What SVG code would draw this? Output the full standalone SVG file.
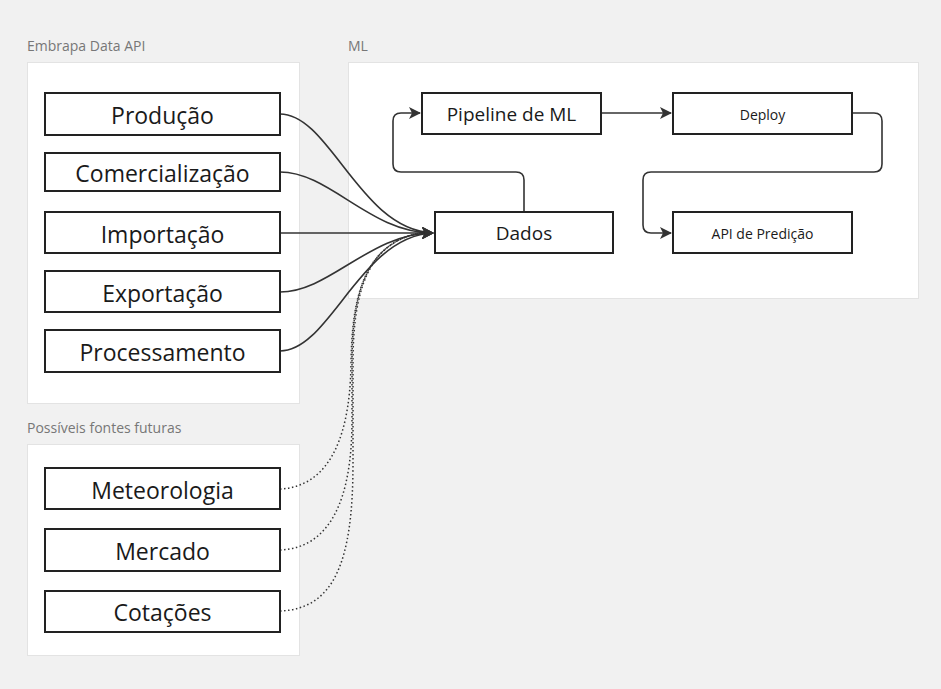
<svg xmlns="http://www.w3.org/2000/svg" width="941" height="689" viewBox="0 0 941 689">
<style>
.bg{fill:#f1f1f1}
.cont{fill:#ffffff;stroke:#e3e3e3;stroke-width:1}
.lbl{font-family:"Open Sans","Noto Sans",sans-serif;font-size:14px;fill:#777}
.box{fill:#ffffff;stroke:#222;stroke-width:2}
.t{font-family:"Open Sans","Noto Sans",sans-serif;fill:#1a1a1a;text-anchor:middle;dominant-baseline:central}
.big{font-size:23px}
.med{font-size:19px}
.sm{font-size:14px}
.edge{fill:none;stroke:#333;stroke-width:1.6}
.dot{fill:none;stroke:#333;stroke-width:1.5;stroke-dasharray:1.5 2.5}
</style>
<defs>
<marker id="arr" viewBox="0 0 12 12" refX="11" refY="6" markerWidth="12" markerHeight="12" markerUnits="userSpaceOnUse" orient="auto">
<path d="M0,0 L12,6 L0,12 L3,6 Z" fill="#333"/>
</marker>
</defs>
<rect class="bg" x="0" y="0" width="941" height="689"/>
<g id="cluster-embrapa">
<rect class="cont" x="27.5" y="62.5" width="272" height="341"/>
<text class="lbl" x="27" y="51">Embrapa Data API</text>
</g>
<g id="cluster-futuras">
<rect class="cont" x="27.5" y="444.5" width="272" height="211"/>
<text class="lbl" x="27" y="433">Possíveis fontes futuras</text>
</g>
<g id="cluster-ml">
<rect class="cont" x="348.5" y="62.5" width="570" height="236"/>
<text class="lbl" x="348" y="51">ML</text>
</g>
<g id="edges">
<path class="edge" d="M280,114 C330,114 360,230 433,233" marker-end="url(#arr)"/>
<path class="edge" d="M280,172 C330,172 370,233 433,233" marker-end="url(#arr)"/>
<path class="edge" d="M280,233 L433,233" marker-end="url(#arr)"/>
<path class="edge" d="M280,292 C330,292 370,233 433,233" marker-end="url(#arr)"/>
<path class="edge" d="M280,351 C330,351 360,236 433,233" marker-end="url(#arr)"/>
<path class="dot" d="M280,489 C322,487 350,450 351,363 C352,300 362,245 420,233"/>
<path class="dot" d="M280,550 C330,548 352,500 352,420 L352,363 C352,300 363,244 420,233"/>
<path class="dot" d="M280,611 C335,609 353,560 353,463 L353,363 C353,300 364,243 420,233"/>
<path class="edge" d="M524,212 L524,180 Q524,172 516,172 L401,172 Q393,172 393,164 L393,121 Q393,113 401,113 L420,113" marker-end="url(#arr)"/>
<path class="edge" d="M601,113 L671,113" marker-end="url(#arr)"/>
<path class="edge" d="M852,113 L874,113 Q882,113 882,121 L882,164 Q882,172 874,172 L651,172 Q643,172 643,180 L643,225 Q643,233 651,233 L671,233" marker-end="url(#arr)"/>
</g>
<g id="n-producao"><rect class="box" x="45" y="93" width="235" height="42"/><text class="t big" x="162.5" y="115">Produção</text></g>
<g id="n-comercializacao"><rect class="box" x="45" y="153" width="235" height="38"/><text class="t big" x="162.5" y="173">Comercialização</text></g>
<g id="n-importacao"><rect class="box" x="45" y="212" width="235" height="41"/><text class="t big" x="162.5" y="234">Importação</text></g>
<g id="n-exportacao"><rect class="box" x="45" y="271" width="235" height="41"/><text class="t big" x="162.5" y="293">Exportação</text></g>
<g id="n-processamento"><rect class="box" x="45" y="330" width="235" height="42"/><text class="t big" x="162.5" y="352">Processamento</text></g>
<g id="n-meteorologia"><rect class="box" x="45" y="468" width="235" height="41"/><text class="t big" x="162.5" y="490">Meteorologia</text></g>
<g id="n-mercado"><rect class="box" x="45" y="529" width="235" height="42"/><text class="t big" x="162.5" y="551">Mercado</text></g>
<g id="n-cotacoes"><rect class="box" x="45" y="591" width="235" height="41"/><text class="t big" x="162.5" y="612">Cotações</text></g>
<g id="n-pipeline"><rect class="box" x="422" y="93" width="179" height="41"/><text class="t med" x="511.5" y="114">Pipeline de ML</text></g>
<g id="n-deploy"><rect class="box" x="673" y="93" width="179" height="41"/><text class="t sm" x="762.5" y="114">Deploy</text></g>
<g id="n-dados"><rect class="box" x="435" y="212" width="178" height="41"/><text class="t med" x="524" y="233">Dados</text></g>
<g id="n-api"><rect class="box" x="673" y="212" width="179" height="41"/><text class="t sm" x="762.5" y="233">API de Predição</text></g>
</svg>
